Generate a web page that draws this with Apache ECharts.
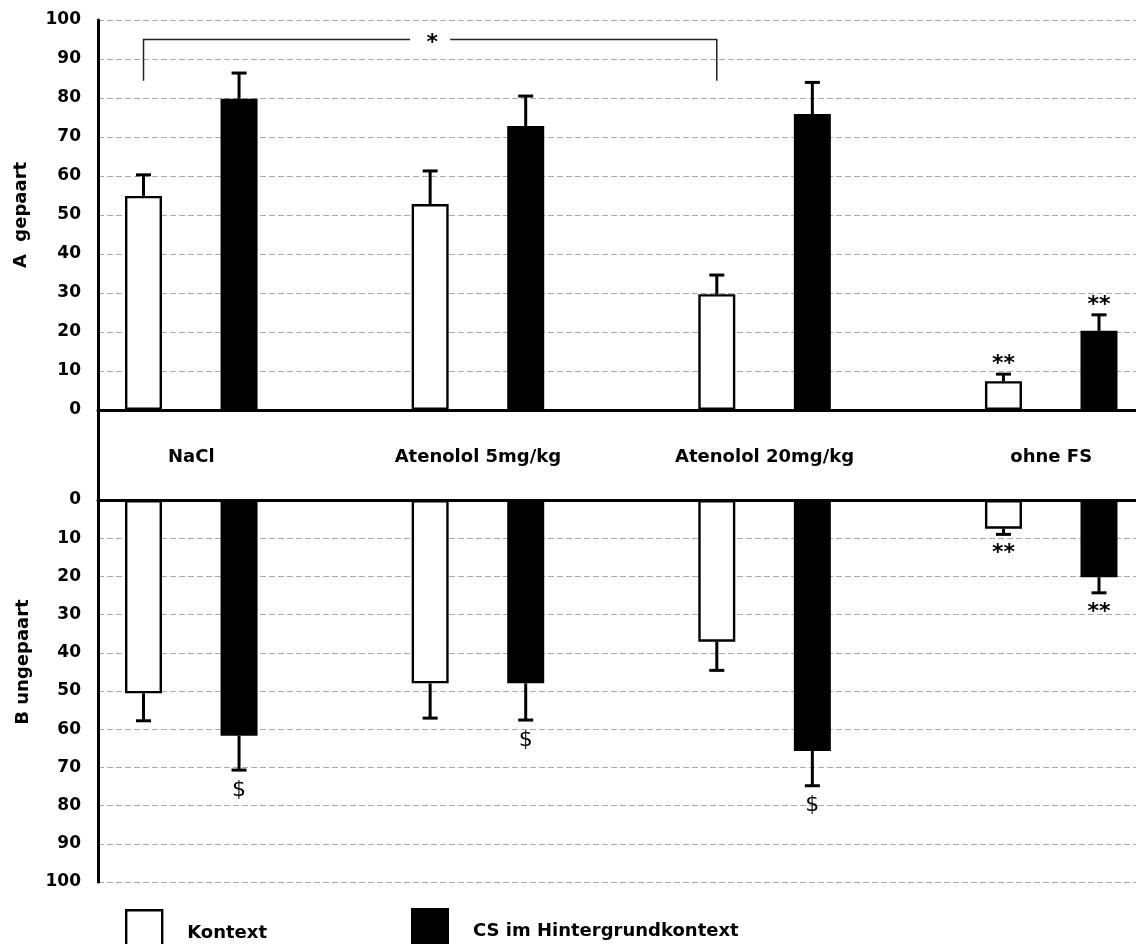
<!DOCTYPE html>
<html>
<head>
<meta charset="utf-8">
<script src="https://cdn.jsdelivr.net/npm/echarts@6/dist/echarts.min.js"></script>
<style>
  html, body { margin: 0; padding: 0; background: #fff; }
  #chart { width: 1136px; height: 944px; }
</style>
</head>
<body>
<div id="chart"></div>
<script>
// Treatment groups
const groups = ['NaCl', 'Atenolol 5mg/kg', 'Atenolol 20mg/kg', 'ohne FS'];

// A: paired (gepaart), percent
const pairedKontext = [54.9, 52.8, 29.7, 7.4];
const pairedKontextSem = [5.4, 8.5, 4.9, 1.8];
const pairedCS = [79.8, 72.8, 75.9, 20.3];
const pairedCSSem = [6.6, 7.7, 8.1, 4.1];

// B: unpaired (ungepaart), percent
const unpairedKontext = [50.6, 48.0, 37.1, 7.5];
const unpairedKontextSem = [7.2, 9.1, 7.5, 1.5];
const unpairedCS = [61.7, 48.0, 65.7, 20.2];
const unpairedCSSem = [9.0, 9.6, 9.1, 4.1];

// Significance marks per group
const pairedKontextMarks = ['', '', '', '**'];
const pairedCSMarks = ['', '', '', '**'];
const unpairedKontextMarks = ['', '', '', '**'];
const unpairedCSMarks = ['$', '$', '$', '**'];

// Comparison bracket between Kontext groups (A)
const bracketGroups = [0, 2];
const bracketLevel = 95;
const bracketFoot = 84.4;
const bracketMark = '*';

const seriesNames = ['Kontext', 'CS im Hintergrundkontext'];

const FONT = "'DejaVu Sans', sans-serif";
const CHART_W = 1136;
const PLOT_LEFT = 98;
const SLOT_PX = 95.55;               // width of one bar slot
const FIRST_SLOT_X = 143.5;          // centre of slot 0
const SLOT_MIN = (PLOT_LEFT - FIRST_SLOT_X) / SLOT_PX;
const SLOT_MAX = SLOT_MIN + (CHART_W - PLOT_LEFT) / SLOT_PX;

// each group occupies three slots: Kontext, CS, spacer
const slotOf = (g, k) => 3 * g + k;

// group names placed on every third half-shifted slot
const labelSlots = [];
for (let i = 0; i < 3 * groups.length - 2; i++) {
  labelSlots.push(i % 3 === 0 ? groups[i / 3] : '');
}

function barData(values, k) {
  return values.map((v, g) => [slotOf(g, k), v]);
}
function errData(values, sems, k) {
  return values.map((v, g) => [slotOf(g, k), v, sems[g]]);
}

function errorSeries(name, axis, values, sems, marks, k, down) {
  return {
    type: 'custom',
    name: name + ' SEM',
    xAxisIndex: axis,
    yAxisIndex: axis,
    z: 5,
    data: errData(values, sems, k),
    renderItem: function (params, api) {
      const x = api.value(0), v = api.value(1), e = api.value(2);
      const p0 = api.coord([x, v]);
      const p1 = api.coord([x, v + e]);
      const children = [
        { type: 'line', shape: { x1: p0[0], y1: p0[1], x2: p1[0], y2: p1[1] },
          style: { stroke: '#000', lineWidth: 3 } },
        { type: 'line', shape: { x1: p1[0] - 7.5, y1: p1[1], x2: p1[0] + 7.5, y2: p1[1] },
          style: { stroke: '#000', lineWidth: 3 } }
      ];
      const mark = marks[params.dataIndex];
      if (mark) {
        const isStar = mark.indexOf('*') >= 0;
        const ty = down ? p1[1] + (isStar ? 19 : 20) : p1[1] - 10;
        children.push({
          type: 'text',
          style: {
            x: p1[0], y: ty, text: mark, fill: '#000',
            font: (isStar ? 'bold ' : '') + '22px ' + FONT,
            textAlign: 'center', textVerticalAlign: 'middle'
          }
        });
      }
      return { type: 'group', children: children };
    }
  };
}

const kontextStyle = { color: '#fff', borderColor: '#000', borderWidth: 2.4 };
const csStyle = { color: '#000' };

const yLabel = { color: '#000', fontFamily: FONT, fontWeight: 'bold', fontSize: 17, margin: 17 };
const split = { show: true, lineStyle: { color: '#aaa', type: [6, 3], width: 1 } };
const axisName = { color: '#000', fontFamily: FONT, fontWeight: 'bold', fontSize: 18 };
const legendText = { color: '#000', fontFamily: FONT, fontWeight: 'bold', fontSize: 18 };

const option = {
  animation: false,
  backgroundColor: '#fff',
  grid: [
    { left: PLOT_LEFT, top: 20, right: 0, height: 390 },
    { left: PLOT_LEFT, top: 500, right: 0, height: 382 },
    { left: PLOT_LEFT, top: 20, right: 0, height: 862 },
    { left: FIRST_SLOT_X, top: 400, width: labelSlots.length * SLOT_PX, height: 57 }
  ],
  xAxis: [
    { gridIndex: 0, type: 'value', min: SLOT_MIN, max: SLOT_MAX, position: 'bottom',
      axisLine: { show: true, lineStyle: { color: '#000', width: 3 } },
      axisTick: { show: false }, axisLabel: { show: false }, splitLine: { show: false } },
    { gridIndex: 1, type: 'value', min: SLOT_MIN, max: SLOT_MAX, position: 'top',
      axisLine: { show: true, lineStyle: { color: '#000', width: 3 } },
      axisTick: { show: false }, axisLabel: { show: false }, splitLine: { show: false } },
    { gridIndex: 2, type: 'value', show: false, min: 0, max: 1 },
    { gridIndex: 3, type: 'category', data: labelSlots, position: 'bottom',
      axisLine: { show: false }, axisTick: { show: false }, splitLine: { show: false },
      axisLabel: { interval: 0, margin: 0, verticalAlign: 'middle', color: '#000',
        fontFamily: FONT, fontWeight: 'bold', fontSize: 18 } }
  ],
  yAxis: [
    { gridIndex: 0, type: 'value', min: 0, max: 100, interval: 10,
      axisLine: { show: false }, axisTick: { show: false },
      axisLabel: yLabel, splitLine: split,
      name: 'A  gepaart', nameLocation: 'middle', nameRotate: 90, nameGap: 68,
      nameTextStyle: axisName },
    { gridIndex: 1, type: 'value', min: 0, max: 100, interval: 10, inverse: true,
      axisLine: { show: false }, axisTick: { show: false },
      axisLabel: yLabel, splitLine: split,
      name: 'B ungepaart', nameLocation: 'middle', nameRotate: 90, nameGap: 66,
      nameTextStyle: Object.assign({}, axisName, { padding: [0, 0, 0, 58] }) },
    { gridIndex: 2, type: 'value', min: 0, max: 1,
      axisLine: { show: true, lineStyle: { color: '#000', width: 3 } },
      axisTick: { show: false }, axisLabel: { show: false }, splitLine: { show: false } },
    { gridIndex: 3, type: 'value', show: false }
  ],
  legend: [
    { data: [{ name: seriesNames[0], icon: 'rect', itemStyle: kontextStyle }],
      left: 125, top: 909, padding: 0, itemWidth: 36, itemHeight: 46, selectedMode: false,
      textStyle: Object.assign({ padding: [0, 0, 0, 20] }, legendText) },
    { data: [{ name: seriesNames[1], icon: 'rect', itemStyle: csStyle }],
      left: 411, top: 908, padding: 0, itemWidth: 38, itemHeight: 46, selectedMode: false,
      textStyle: Object.assign({ padding: [0, 0, 0, 19] }, legendText) }
  ],
  series: [
    { type: 'bar', name: seriesNames[0], xAxisIndex: 0, yAxisIndex: 0, barWidth: 37, barGap: '-100%',
      itemStyle: kontextStyle, data: barData(pairedKontext, 0) },
    { type: 'bar', name: seriesNames[1], xAxisIndex: 0, yAxisIndex: 0, barWidth: 37, barGap: '-100%',
      itemStyle: csStyle, data: barData(pairedCS, 1) },
    { type: 'bar', name: seriesNames[0], xAxisIndex: 1, yAxisIndex: 1, barWidth: 37, barGap: '-100%',
      itemStyle: kontextStyle, data: barData(unpairedKontext, 0) },
    { type: 'bar', name: seriesNames[1], xAxisIndex: 1, yAxisIndex: 1, barWidth: 37, barGap: '-100%',
      itemStyle: csStyle, data: barData(unpairedCS, 1) },
    errorSeries(seriesNames[0], 0, pairedKontext, pairedKontextSem, pairedKontextMarks, 0, false),
    errorSeries(seriesNames[1], 0, pairedCS, pairedCSSem, pairedCSMarks, 1, false),
    errorSeries(seriesNames[0], 1, unpairedKontext, unpairedKontextSem, unpairedKontextMarks, 0, true),
    errorSeries(seriesNames[1], 1, unpairedCS, unpairedCSSem, unpairedCSMarks, 1, true),
    {
      type: 'custom',
      name: 'bracket',
      xAxisIndex: 0,
      yAxisIndex: 0,
      z: 5,
      data: [[slotOf(bracketGroups[0], 0), slotOf(bracketGroups[1], 0), bracketLevel, bracketFoot]],
      encode: { x: [0, 1], y: [2, 3] },
      renderItem: function (params, api) {
        const a = api.coord([api.value(0), api.value(3)]);
        const b = api.coord([api.value(1), api.value(2)]);
        const mid = (a[0] + b[0]) / 2;
        const gap = 20;
        const st = { stroke: '#222', lineWidth: 1.5, fill: 'none' };
        return {
          type: 'group',
          children: [
            { type: 'polyline', shape: { points: [[a[0], a[1]], [a[0], b[1]], [mid - gap, b[1]]] }, style: st },
            { type: 'polyline', shape: { points: [[mid + gap, b[1]], [b[0], b[1]], [b[0], a[1]]] }, style: st },
            { type: 'text', style: { x: mid + 2, y: b[1] + 4, text: bracketMark, fill: '#000',
              font: 'bold 22px ' + FONT, textAlign: 'center', textVerticalAlign: 'middle' } }
          ]
        };
      }
    }
  ]
};

const chart = echarts.init(document.getElementById('chart'), null, { renderer: 'canvas' });
chart.setOption(option);
</script>
</body>
</html>
